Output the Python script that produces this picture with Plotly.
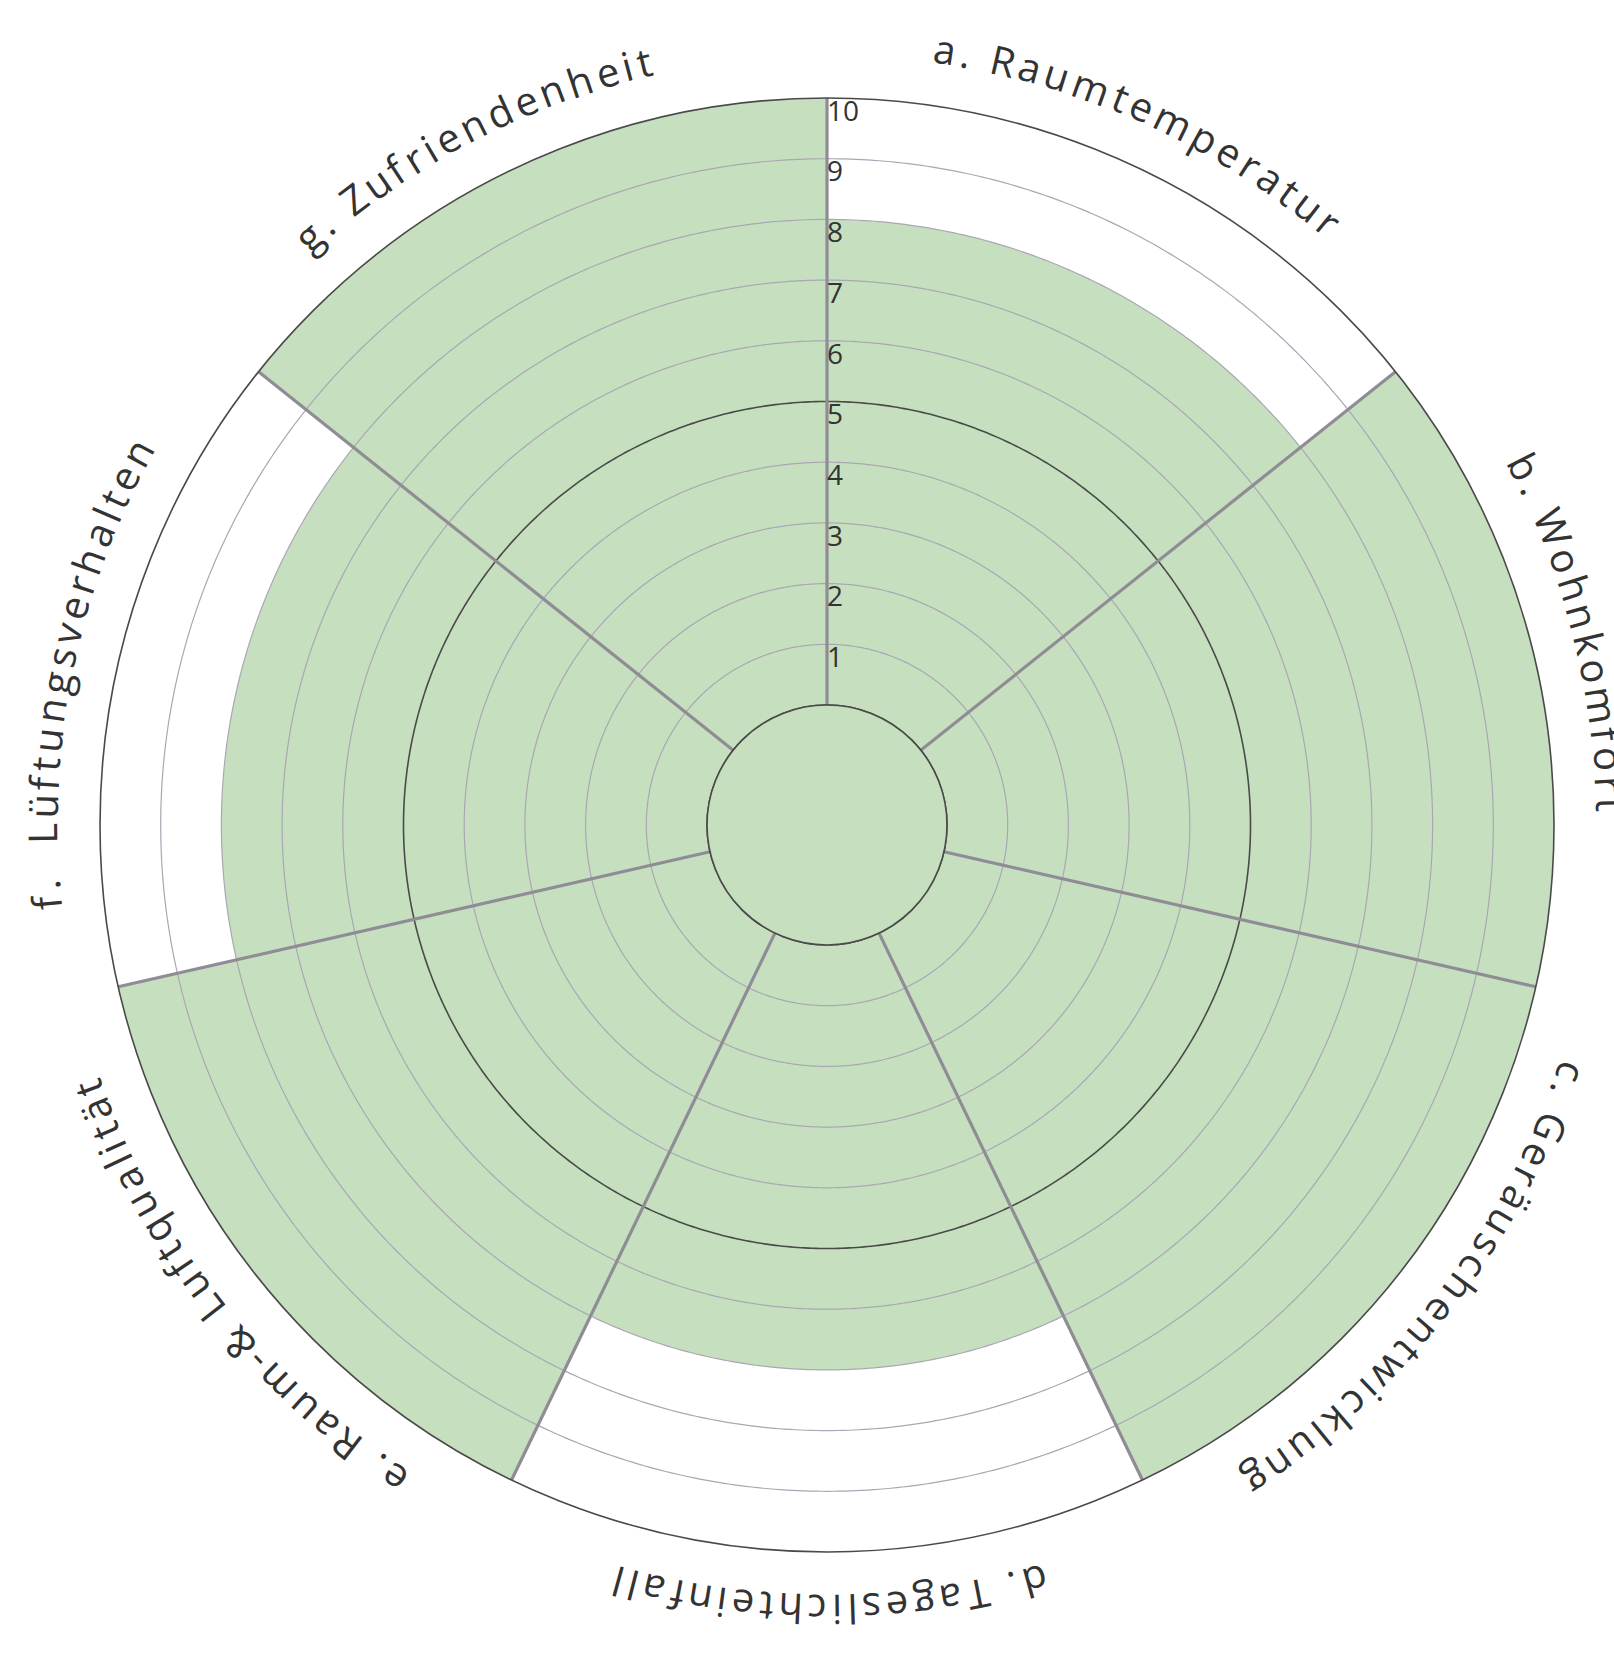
import numpy as np
import plotly.graph_objects as go

# ---------------- data ----------------
categories = ["a. Raumtemperatur", "b. Wohnkomfort", "c. Geräuschentwicklung",
              "d. Tageslichteinfall", "e. Raum-& Luftqualität", "f.  Lüftungsverhalten",
              "g. Zufriendenheit"]
values = [8, 10, 10, 7, 10, 8, 10]
tick_values = [1, 2, 3, 4, 5, 6, 7, 8, 9, 10]
tick_labels = ["1", "2", "3", "4", "5", "6", "7", "8", "9", "10"]

# ---------------- geometry / style ----------------
W, H = 1614, 1655
CX, CY = 827.0, 825.0       # centre in pixels (from top-left)
R_OUT = 727.0                # outer radius in pixels
R_HOLE = 120.0               # hole radius in pixels
GREEN = "#c6e0bf"
DARK = "#4a4a4a"
RING = "#aaa6b4"
SPOKE = "#8f8c95"
TEXT = "#333333"
FONT = "Open Sans"
LABEL_SHIFT = [-1.5, -1.5, -1.0, 0.0, 0.5, -1.5, -1.7]   # small angular nudges (deg)

n = len(categories)
step = 360.0 / n
centers = [i * step + step / 2 for i in range(n)]

fig = go.Figure()

# bars
fig.add_trace(go.Barpolar(
    r=values, theta=centers, width=[step] * n,
    marker=dict(color=GREEN, line=dict(width=0)),
    hoverinfo="skip", showlegend=False,
))

# rings (drawn above the bars, like the reference)
full_circle = np.linspace(0, 360, 721)
for v in tick_values:
    if v == 10:
        continue
    dark = (v == 5)
    fig.add_trace(go.Scatterpolar(
        r=[v] * len(full_circle), theta=full_circle, mode="lines",
        line=dict(color=DARK if dark else RING, width=1.6 if dark else 1.2),
        hoverinfo="skip", showlegend=False,
    ))

# spokes at the sector borders
for i in range(n):
    fig.add_trace(go.Scatterpolar(
        r=[0, tick_values[-1]], theta=[i * step, i * step], mode="lines",
        line=dict(color=SPOKE, width=3.2),
        hoverinfo="skip", showlegend=False,
    ))

# radial tick labels
fig.add_trace(go.Scatterpolar(
    r=[v - 0.26 for v in tick_values], theta=[0] * len(tick_values),
    mode="text", text=tick_labels, textposition="middle right",
    textfont=dict(family=FONT, size=28, color=TEXT),
    hoverinfo="skip", showlegend=False,
))

x0 = (CX - R_OUT) / W
x1 = (CX + R_OUT) / W
yc = H - CY
y0 = (yc - R_OUT) / H
y1 = (yc + R_OUT) / H

fig.update_layout(
    width=W, height=H,
    margin=dict(l=0, r=0, t=0, b=0),
    paper_bgcolor="white",
    showlegend=False,
    polar=dict(
        domain=dict(x=[x0, x1], y=[y0, y1]),
        bgcolor="white",
        hole=R_HOLE / R_OUT,
        radialaxis=dict(range=[0, 10], showgrid=False, showline=False,
                        showticklabels=False, ticks=""),
        angularaxis=dict(rotation=90, direction="clockwise", showgrid=False,
                         showticklabels=False, ticks="", showline=True,
                         linecolor=DARK, linewidth=1.6),
    ),
)

# green centre with dark outline
fig.add_shape(type="circle", xref="paper", yref="paper",
              x0=(CX - R_HOLE) / W, x1=(CX + R_HOLE) / W,
              y0=(yc - R_HOLE) / H, y1=(yc + R_HOLE) / H,
              fillcolor=GREEN, line=dict(color=DARK, width=1.6), layer="above")

# ---------------- curved category labels ----------------
char_w = {
    'a': .556, 'b': .613, 'c': .481, 'd': .613, 'e': .561, 'f': .336, 'g': .546,
    'h': .614, 'i': .258, 'k': .530, 'l': .258, 'm': .932, 'n': .614, 'o': .602,
    'p': .613, 'q': .613, 'r': .409, 's': .478, 't': .353, 'u': .614, 'v': .501,
    'w': .778, 'z': .470, 'ä': .556, 'ü': .614, ' ': .260, '.': .266, '-': .322,
    '&': .710, 'R': .602, 'T': .550, 'W': .924, 'Z': .560, 'G': .700, 'L': .514,
}
LABEL_SIZE = 40
TRACK = 5.0
R_LABEL = 785.0

for cat, c_ang, shift in zip(categories, centers, LABEL_SHIFT):
    widths = [char_w.get(ch, .55) * LABEL_SIZE for ch in cat]
    pos = []
    s = 0.0
    for w in widths:
        pos.append(s + w / 2)
        s += w + TRACK
    mid = (pos[0] + pos[-1]) / 2
    for ch, p in zip(cat, pos):
        if ch == " ":
            continue
        ang = c_ang + shift + np.degrees((p - mid) / R_LABEL)
        a = np.radians(ang)
        px = CX + R_LABEL * np.sin(a)
        py = CY - R_LABEL * np.cos(a)
        ta = ((ang + 180) % 360) - 180
        fig.add_annotation(
            x=px / W, y=1 - py / H, xref="paper", yref="paper",
            text=ch, showarrow=False, textangle=ta,
            xanchor="center", yanchor="middle",
            font=dict(family=FONT, size=LABEL_SIZE, color=TEXT),
        )

fig.write_html("out.html", config={"displayModeBar": False},
               post_script="document.body.style.margin='0';")
